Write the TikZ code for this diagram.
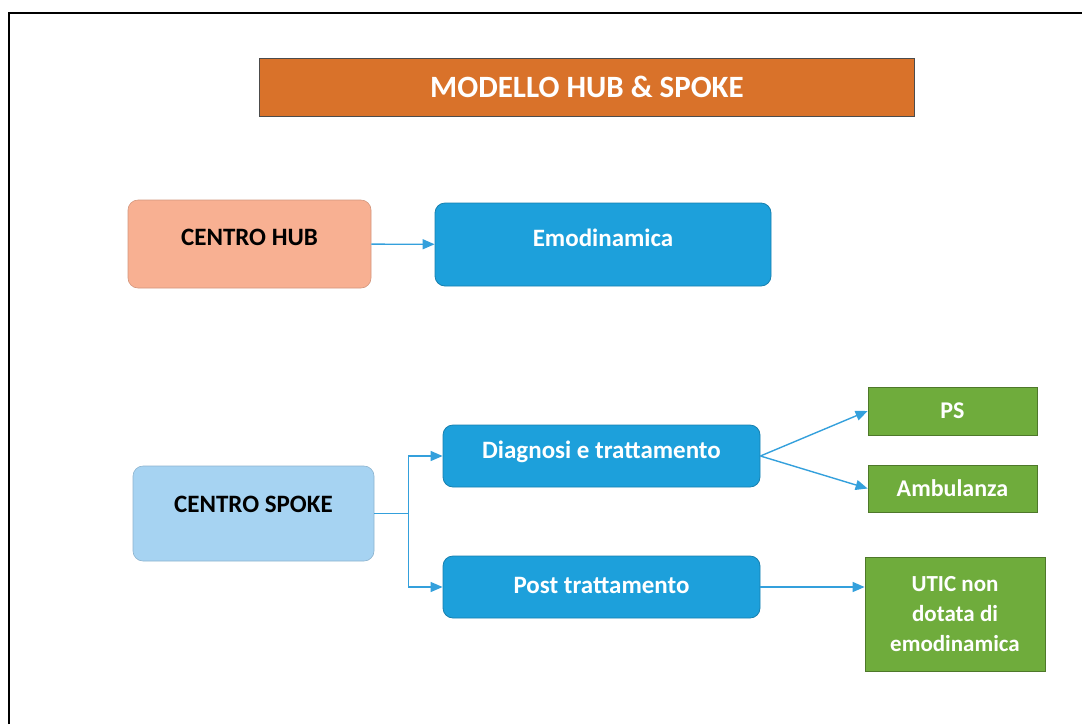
\documentclass[tikz,border=0pt]{standalone}
\usepackage{fontspec}
\setmainfont{Carlito}
\usetikzlibrary{arrows.meta}

\definecolor{titleorange}{RGB}{217,114,42}
\definecolor{hubpeach}{RGB}{248,176,146}
\definecolor{boxblue}{RGB}{29,160,219}
\definecolor{spokeblue}{RGB}{166,211,242}
\definecolor{boxgreen}{RGB}{111,172,60}
\definecolor{connblue}{RGB}{52,160,220}

\tikzset{
  box/.style={inner sep=0pt, align=center, font=\bfseries\fontsize{25}{30}\selectfont},
  titlebox/.style={box, fill=titleorange, draw=black!70, line width=0.8pt, text=white,
    font=\bfseries\fontsize{31}{36}\selectfont},
  hubbox/.style={box, rounded corners=10pt, fill=hubpeach, draw=hubpeach!85!black, line width=0.6pt, text=black},
  spokebox/.style={box, rounded corners=10pt, fill=spokeblue, draw=spokeblue!85!black, line width=0.6pt, text=black},
  bluebox/.style={box, rounded corners=10pt, fill=boxblue, draw=boxblue!80!black, line width=0.8pt, text=white},
  greenbox/.style={box, fill=boxgreen, draw=boxgreen!70!black, line width=0.8pt, text=white,
    font=\bfseries\fontsize{24}{30}\selectfont},
  conn/.style={draw=connblue, line width=1.4pt, -{Triangle[length=12pt,width=10pt]}},
}

\begin{document}
\begin{tikzpicture}[x=1pt,y=-1pt]
  \useasboundingbox (0,0) rectangle (1082,724);
  % cornice
  \draw[line width=1.5pt] (9,724) |- (1082,13);

  \node[titlebox, minimum width=655pt, minimum height=58pt] (title) at (587,87) {MODELLO HUB \& SPOKE};

  % hub
  \node[hubbox, text depth=14pt, minimum width=243pt, minimum height=88pt] (hub) at (249.5,244) {CENTRO HUB};
  \node[bluebox, text depth=14pt, minimum width=336pt, minimum height=83pt] (emo) at (603,244.5) {Emodinamica};

  % spoke
  \node[spokebox, text depth=18pt, minimum width=241pt, minimum height=95pt] (spoke) at (253.5,513.5) {CENTRO SPOKE};
  \node[bluebox, text depth=12pt, minimum width=317pt, minimum height=62pt] (diag) at (601.5,456) {Diagnosi e trattamento};
  \node[bluebox, text depth=4pt, minimum width=317pt, minimum height=62pt] (post) at (601.5,587) {Post trattamento};

  \node[greenbox, minimum width=169pt, minimum height=48pt] (ps) at (952.5,411) {PS};
  \node[greenbox, minimum width=169pt, minimum height=47pt] (amb) at (952.5,488.5) {Ambulanza};
  \node[greenbox, minimum width=180pt, minimum height=114pt,
    font=\bfseries\fontsize{23}{30}\selectfont] (utic) at (955,614) {UTIC non\\dotata di\\emodinamica};

  \draw[conn] (hub) -- (emo);
  \draw[conn] (spoke.east) -- ++(34,0) coordinate (fork) |- (diag.west);
  \draw[conn] (fork) |- (post.west);
  \draw[conn] (diag.east) -- (ps.west);
  \draw[conn] (diag.east) -- (amb.west);
  \draw[conn] (post.east) -- (post.east -| utic.west);
\end{tikzpicture}
\end{document}
